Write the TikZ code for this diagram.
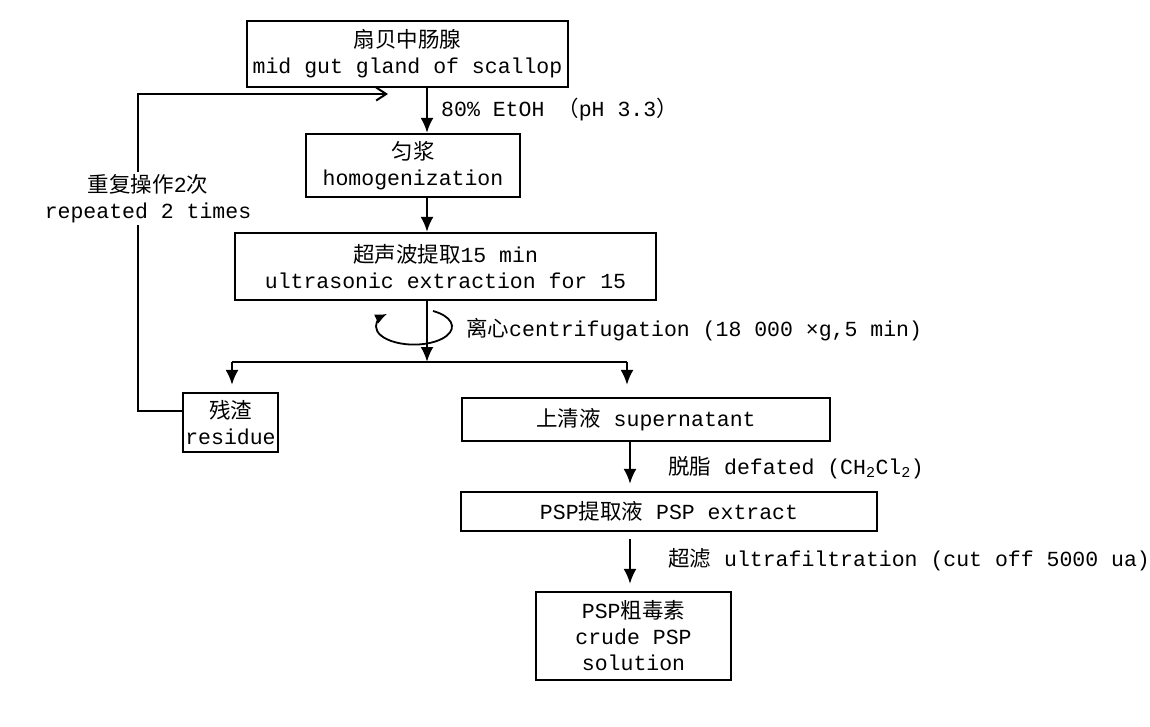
\documentclass[tikz,border=0pt]{standalone}
\usepackage{fontspec}
\setmainfont{Liberation Mono}
\newfontfamily\cjk{Noto Sans CJK SC}
\usetikzlibrary{arrows.meta}
\tikzset{every node/.style={font=\fontsize{21.5}{26}\selectfont},
 stepbox/.style={draw,line width=2.1pt,align=center,inner sep=0pt},
 flow/.style={line width=2.5pt,-{Latex[length=15pt,width=13pt]}},
 back/.style={line width=2pt,-{Straight Barb[length=10pt,width=13pt]}},
 note/.style={anchor=west,inner sep=0pt},
 }

\begin{document}
\begin{tikzpicture}[x=1pt,y=-1pt]
        \useasboundingbox (0,0) rectangle (1150,727);
        % boxes
        \node[stepbox,minimum width=321pt,minimum height=66pt] (gland) at (407.5,54)
            {{\cjk 扇贝中肠腺}\\mid gut gland of scallop};
        \node[stepbox,minimum width=214pt,minimum height=63pt] (homog) at (413,165.5)
            {{\cjk 匀浆}\\homogenization};
        \node[stepbox,minimum width=421pt,minimum height=67pt] (ultra) at (445.5,266.5)
            {{\cjk 超声波提取}15 min\\ultrasonic extraction for 15};
        \node[stepbox,minimum width=95pt,minimum height=59pt] (res) at (230.5,422.5)
            {{\cjk 残渣}\\residue};
        \node[stepbox,minimum width=368pt,minimum height=43pt] (super) at (646,419.5)
            {{\cjk 上清液} supernatant};
        \node[stepbox,minimum width=416pt,minimum height=39pt] (extract) at (669,511.5)
            {PSP{\cjk 提取液} PSP extract};
        \node[stepbox,minimum width=195pt,minimum height=88pt] (crude) at (633.5,636)
            {PSP{\cjk 粗毒素}\\crude PSP\\solution};
        % points
        \coordinate (mid) at (427,0);
        \coordinate (right) at (630,0);
        \coordinate (split) at (427,362);
        \coordinate (splitL) at (232,362);
        \coordinate (splitR) at (627,362);
        \coordinate (fbend) at (388,94);
        % connectors
        \draw[flow] (gland.south -| mid) -- (homog.north -| mid);
        \draw[flow] (homog.south -| mid) -- (ultra.north -| mid);
        \draw[line width=1.8pt,-{Latex[length=12pt,width=10pt]}] (433,311)
            arc[start angle=60,end angle=-225,x radius=38pt,y radius=18pt];
        \draw[flow] (ultra.south -| mid) -- (split);
        \draw[line width=2.5pt] (splitL) -- (splitR);
        \draw[flow,shorten >=7pt] (splitL) -- (res.north -| splitL);
        \draw[flow,shorten >=12pt] (splitR) -- (super.north -| splitR);
        \draw[flow,shorten >=7pt] (super.south -| right) -- (extract.north -| right);
        \draw[flow,shorten <=7pt,shorten >=7pt] (extract.south -| right) -- (crude.north -| right);
        \draw[back] ([yshift=12pt]res.west) -- ++(-44,0) |- (fbend);
        % labels
        \node[note] (etoh) at (441,110) {80\% EtOH {\cjk （}pH 3.3{\cjk ）}};
        \node[align=center,inner sep=2pt,fill=white] (rep) at (148,198.5) {{\cjk 重复操作}2{\cjk 次}\\repeated 2 times};
        \node[note] (cent) at (466,330) {{\cjk 离心}centrifugation (18 000 ×g,5 min)};
        \node[note] (defat) at (668,468) {{\cjk 脱脂} defated (CH\textsubscript{2}Cl\textsubscript{2})};
        \node[note] (filt) at (668,560) {{\cjk 超滤} ultrafiltration (cut off 5000 ua)};
    \end{tikzpicture}
\end{document}
